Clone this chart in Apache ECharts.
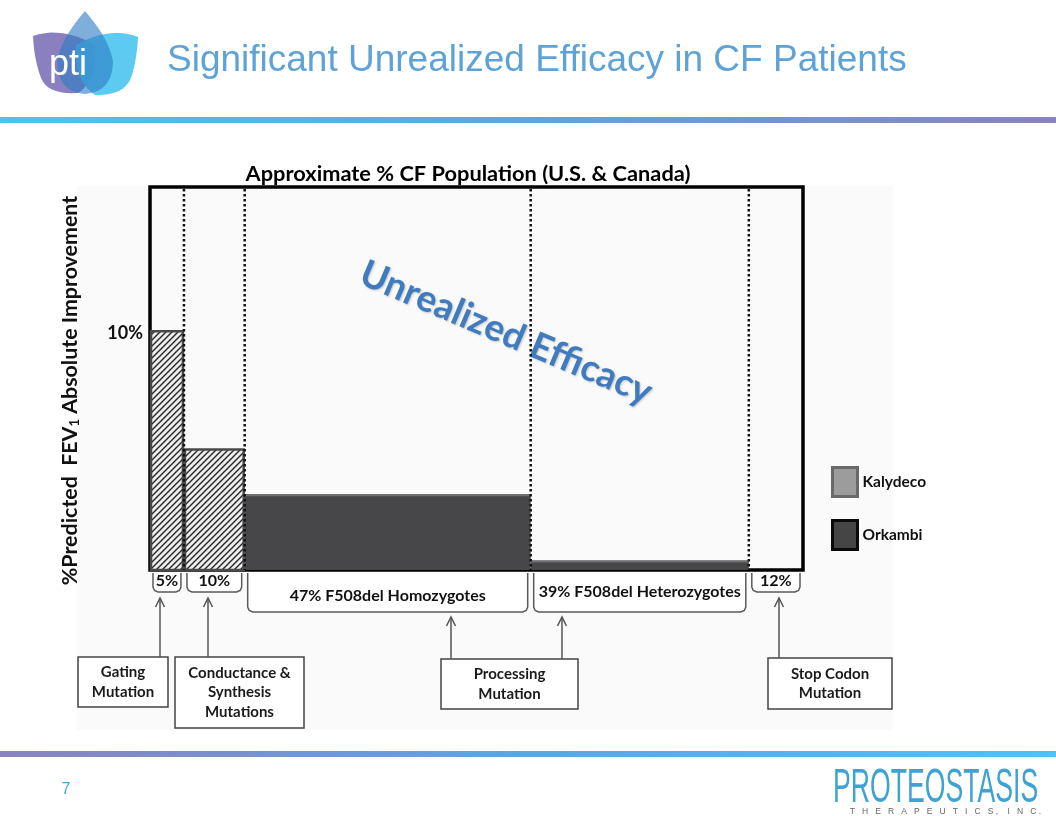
<!DOCTYPE html>
<html><head><meta charset="utf-8">
<script src="https://cdn.jsdelivr.net/npm/echarts@6/dist/echarts.min.js"></script>
<style>html,body{margin:0;padding:0;background:#fff}#c{width:1056px;height:816px}</style>
</head><body><div id="c"></div>
<script>
// ---- data ----
const categories = ['Gating', 'Conductance & Synthesis', 'F508del Homozygotes', 'F508del Heterozygotes', 'Stop Codon'];
const popWidths = [5.2, 9.3, 43.8, 33.4, 8.3];          // drawn width of each population segment (% of axis)
const fevGain = [10.1, 5.1, 3.2, 0.4, 0];               // %predicted FEV1 absolute improvement
const drugs = ['Kalydeco', 'Kalydeco', 'Orkambi', 'Orkambi', ''];
const bracketLabels = ['5%', '10%', '47% F508del Homozygotes', '39% F508del Heterozygotes', '12%'];
const yTickValues = [10];
const yMax = 16.2;
const calloutTexts = ['Gating\nMutation', 'Conductance &\nSynthesis\nMutations', 'Processing\nMutation', 'Stop Codon\nMutation'];

// ---- build ----
const starts = [];
let acc = 0;
popWidths.forEach(w => { starts.push(acc); acc += w; });
const xMax = acc;
const boundaries = starts.slice(1);

function seriesData(drug) {
  const out = [];
  categories.forEach((c, i) => {
    if (drugs[i] === drug) out.push({ name: c, value: [starts[i], starts[i] + popWidths[i], fevGain[i]] });
  });
  return out;
}

const hatch = document.createElement('canvas');
hatch.width = hatch.height = 6;
(function () {
  const g = hatch.getContext('2d');
  g.fillStyle = '#eeeeee'; g.fillRect(0, 0, 6, 6);
  g.strokeStyle = '#262626'; g.lineWidth = 1.4;
  g.beginPath();
  g.moveTo(0, 6); g.lineTo(6, 0);
  g.moveTo(-3, 3); g.lineTo(3, -3);
  g.moveTo(3, 9); g.lineTo(9, 3);
  g.stroke();
})();

const FONT = 'Lato, "Open Sans", sans-serif';

function barRender(kind) {
  return function (params, api) {
    const p0 = api.coord([api.value(0), api.value(2)]);
    const p1 = api.coord([api.value(1), 0]);
    const x = p0[0], y = p0[1], w = p1[0] - p0[0], h = p1[1] - p0[1];
    if (kind === 'Kalydeco') {
      return { type: 'rect', shape: { x: x + 1, y: y, width: w - 2, height: h },
        style: { fill: { image: hatch, repeat: 'repeat' }, stroke: '#4a4a4a', lineWidth: 2.5 } };
    }
    return { type: 'group', children: [
      { type: 'rect', shape: { x: x, y: y, width: w, height: h }, style: { fill: '#474649' } },
      { type: 'line', shape: { x1: x, y1: y + 1, x2: x + w, y2: y + 1 }, style: { stroke: '#6f6f6f', lineWidth: 2 } }
    ] };
  };
}

function bracketRender(params, api) {
  const i = params.dataIndex;
  const a = api.coord([api.value(0), 0]);
  const b = api.coord([api.value(1), 0]);
  const label = bracketLabels[i];
  const deep = label.length > 5;
  const y0 = a[1] + 3, y1 = a[1] + (deep ? 42 : 22);
  const x0 = a[0] + 3, x1 = b[0] - 3, r = 5;
  const pts = [[x0, y0], [x0, y1 - r], [x0 + 1.5, y1 - 1.5], [x0 + r, y1], [x1 - r, y1], [x1 - 1.5, y1 - 1.5], [x1, y1 - r], [x1, y0]];
  return { type: 'group', children: [
    { type: 'polyline', shape: { points: pts }, style: { fill: '#ffffff', stroke: '#5a5a5a', lineWidth: 1.5 } },
    { type: 'text', x: (x0 + x1) / 2, y: deep ? (i === 2 ? a[1] + 26 : a[1] + 22) : a[1] + 11,
      style: { text: label, fontFamily: FONT, fontWeight: 'bold', fontSize: 16, fill: '#111', align: 'center', verticalAlign: 'middle' } }
  ] };
}

function dividerRender(params, api) {
  const t = api.coord([api.value(0), yMax]);
  const btm = api.coord([api.value(0), 0]);
  return { type: 'line', shape: { x1: t[0], y1: t[1] + 2, x2: btm[0], y2: btm[1] },
    style: { stroke: '#111', lineWidth: 2.5, lineDash: [2.5, 2.5] } };
}

function arrow(x, yTop, yBottom) {
  return [
    { type: 'line', shape: { x1: x, y1: yTop, x2: x, y2: yBottom }, style: { stroke: '#555', lineWidth: 1.5 } },
    { type: 'polyline', shape: { points: [[x - 4.5, yTop + 9], [x, yTop], [x + 4.5, yTop + 9]] }, style: { stroke: '#555', lineWidth: 1.5, fill: null } }
  ];
}
function box(x, y, w, h, text) {
  return [
    { type: 'rect', shape: { x: x, y: y, width: w, height: h }, style: { fill: '#fff', stroke: '#444', lineWidth: 1.5 } },
    { type: 'text', x: x + w / 2, y: y + h / 2, style: { text: text, fontFamily: FONT, fontWeight: 'bold', fontSize: 15, lineHeight: 19.5, fill: '#1a1a1a', align: 'center', verticalAlign: 'middle' } }
  ];
}
// quadratic-bezier outline -> polygon points (logo petals)
function petal(segs) {
  const pts = [];
  let cur = segs[0];
  pts.push(cur);
  for (let k = 1; k < segs.length; k++) {
    const s = segs[k];
    if (s.length === 2) { pts.push(s); cur = s; continue; }
    const c = [s[0], s[1]], e = [s[2], s[3]];
    for (let t = 0.1; t <= 1.0001; t += 0.1) {
      const u = 1 - t;
      pts.push([u * u * cur[0] + 2 * u * t * c[0] + t * t * e[0], u * u * cur[1] + 2 * u * t * c[1] + t * t * e[1]]);
    }
    cur = e;
  }
  return pts;
}

const graphics = [].concat(
  [{ type: 'rect', z: -10, shape: { x: 77, y: 186, width: 816, height: 544 }, style: { fill: '#fafafa' } }],
  [{ type: 'rect', shape: { x: 0, y: 117, width: 1056, height: 6 },
     style: { fill: new echarts.graphic.LinearGradient(0, 0, 1, 0, [{ offset: 0, color: '#4cc4ee' }, { offset: 0.5, color: '#5ea6dc' }, { offset: 1, color: '#8a82c0' }]) } },
   { type: 'rect', shape: { x: 0, y: 751, width: 1056, height: 6 },
     style: { fill: new echarts.graphic.LinearGradient(0, 0, 1, 0, [{ offset: 0, color: '#8a82c0' }, { offset: 0.5, color: '#5ea6dc' }, { offset: 1, color: '#4cc4ee' }]) } }],
  [{ type: 'polygon', shape: { points: petal([[33, 36], [62, 26, 95, 45], [98, 80, 78, 93], [45, 95, 40, 75], [34, 58, 33, 36]]) }, style: { fill: '#8a80c0' } },
   { type: 'polygon', shape: { points: petal([[138, 37], [110, 26, 76, 45], [73, 80, 95, 95], [126, 96, 132, 75], [137, 58, 138, 37]]) }, style: { fill: '#4ec6f0', opacity: 0.92 } },
   { type: 'polygon', shape: { points: petal([[85, 11], [60, 40, 57, 62], [58, 92, 85, 94], [112, 92, 113, 62], [110, 40, 85, 11]]) }, style: { fill: '#2f7cc4', opacity: 0.62 } },
   { type: 'text', x: 68, y: 65, style: { text: 'pti', fontFamily: '"Liberation Sans", Arial, sans-serif', fontSize: 36, fill: '#fff', align: 'center', verticalAlign: 'middle' } }],
  [{ type: 'text', x: 66, y: 790, style: { text: '7', fontFamily: '"Liberation Sans", sans-serif', fontSize: 16, fill: '#3aa9dd', align: 'center', verticalAlign: 'middle' } },
   { type: 'text', x: 833, y: 789, scaleX: 0.555, style: { text: 'PROTEOSTASIS', fontFamily: '"Liberation Sans", sans-serif', fontSize: 48, fill: '#3fa2d4', align: 'left', verticalAlign: 'middle' } },
   { type: 'text', x: 1041, y: 812, style: { text: 'T   H   E   R   A   P   E   U   T   I   C   S ,    I   N   C .', fontFamily: '"Liberation Sans", sans-serif', fontSize: 8.5, fill: '#666', align: 'right', verticalAlign: 'middle' } }],
  [{ type: 'text', x: 506, y: 333, rotation: -23 * Math.PI / 180,
     style: { text: 'Unrealized Efficacy', fontFamily: FONT, fontWeight: 'bold', fontSize: 37, fill: '#3f7cbf', align: 'center', verticalAlign: 'middle',
              textShadowColor: 'rgba(0,0,0,0.22)', textShadowBlur: 2, textShadowOffsetX: 1, textShadowOffsetY: 1 } }],
  box(78, 657, 90, 50, calloutTexts[0]), arrow(160, 598, 657),
  box(175, 657, 129, 71, calloutTexts[1]), arrow(208, 598, 657),
  box(441, 659, 137, 50, calloutTexts[2]), arrow(451, 617, 659), arrow(562, 617, 659),
  box(768, 658, 124, 51, calloutTexts[3]), arrow(779, 598, 658)
);

const chart = echarts.init(document.getElementById('c'));
chart.setOption({
  animation: false,
  backgroundColor: '#ffffff',
  title: [
    { text: 'Significant Unrealized Efficacy in CF Patients', left: 162, top: 37,
      textStyle: { fontFamily: '"Liberation Sans", Arial, sans-serif', fontSize: 37, fontWeight: 'normal', color: '#5fa3d6' } },
    { text: 'Approximate % CF Population (U.S. & Canada)', left: 463, top: 158, textAlign: 'center',
      textStyle: { fontFamily: FONT, fontSize: 21.8, fontWeight: 'bold', color: '#000' } }
  ],
  grid: { left: 150, right: 253, top: 187, bottom: 246, show: true, borderColor: '#000', borderWidth: 3.5, backgroundColor: 'transparent' },
  legend: {
    orient: 'vertical', left: 826, top: 461, itemWidth: 25, itemHeight: 29, itemGap: 21, icon: 'rect', selectedMode: false,
    textStyle: { fontFamily: FONT, fontWeight: 'bold', fontSize: 15.5, color: '#111' },
    data: [
      { name: 'Kalydeco', itemStyle: { color: '#9c9c9c', borderColor: '#696969', borderWidth: 3 } },
      { name: 'Orkambi', itemStyle: { color: '#454545', borderColor: '#0a0a0a', borderWidth: 3 } }
    ]
  },
  xAxis: { type: 'value', min: 0, max: xMax, axisLine: { show: false }, axisTick: { show: false }, axisLabel: { show: false }, splitLine: { show: false } },
  yAxis: {
    type: 'value', min: 0, max: yMax, interval: 10,
    axisLine: { show: false }, axisTick: { show: false }, splitLine: { show: false },
    axisLabel: { margin: 7, fontFamily: FONT, fontWeight: 'bold', fontSize: 18, color: '#111', showMaxLabel: false,
      formatter: v => (yTickValues.indexOf(v) >= 0 ? v + '%' : '') },
    name: '{a|%Predicted  FEV}{s|1}{a| Absolute Improvement}',
    nameLocation: 'middle', nameRotate: 90, nameGap: 69,
    nameTextStyle: { padding: [0, 24, 0, 0], rich: {
      a: { fontFamily: FONT, fontWeight: 'bold', fontSize: 21.4, color: '#111' },
      s: { fontFamily: FONT, fontWeight: 'bold', fontSize: 13, color: '#111', verticalAlign: 'bottom', padding: [9, 0, 0, 0] } } }
  },
  series: [
    { type: 'custom', name: 'Kalydeco', color: '#9c9c9c', renderItem: barRender('Kalydeco'), encode: { x: [0, 1], y: 2 }, data: seriesData('Kalydeco'), z: 3 },
    { type: 'custom', name: 'Orkambi', color: '#454545', renderItem: barRender('Orkambi'), encode: { x: [0, 1], y: 2 }, data: seriesData('Orkambi'), z: 3 },
    { type: 'custom', name: 'dividers', renderItem: dividerRender, encode: { x: 0 }, data: boundaries.map(b => [b]), z: 4, silent: true },
    { type: 'custom', name: 'brackets', renderItem: bracketRender, encode: { x: [0, 1] }, clip: false,
      data: categories.map((c, i) => [starts[i], starts[i] + popWidths[i]]), z: 4, silent: true }
  ],
  graphic: { elements: graphics }
});
</script></body></html>
